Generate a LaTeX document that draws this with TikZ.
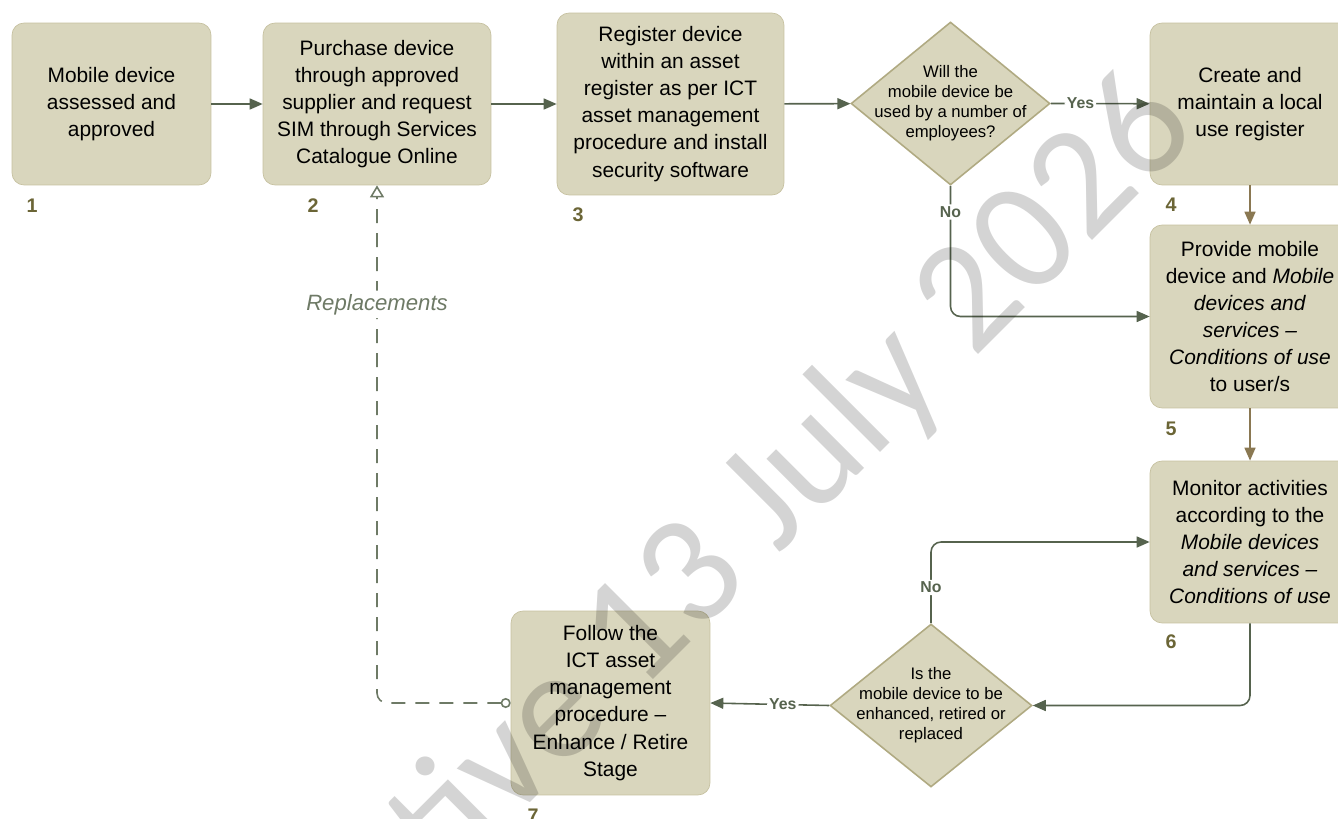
\documentclass[tikz,border=0pt]{standalone}
\usepackage{fontspec}
\setmainfont{Liberation Sans}
\newfontfamily\wmfont{Carlito}
\usetikzlibrary{arrows.meta}
\usetikzlibrary{shapes.geometric}

\definecolor{boxfill}{HTML}{D9D6BD}
\definecolor{boxline}{HTML}{C6C1A0}
\definecolor{diamline}{HTML}{B0AA82}
\definecolor{flowgreen}{HTML}{56634E}
\definecolor{flowbrown}{HTML}{8A7852}
\definecolor{numolive}{HTML}{6B6536}
\definecolor{replgray}{HTML}{6E7A66}

\tikzset{
  stepbox/.style={draw=boxline,fill=boxfill,rounded corners=0.24cm,align=center,
    inner sep=0pt,font=\fontsize{11.9}{15.4}\selectfont},
  decision/.style={diamond,draw=diamline,fill=boxfill,line width=0.9pt,inner sep=0pt},
  decisiontext/.style={align=center,inner sep=0pt,font=\fontsize{9.5}{11.4}\selectfont},
  flow/.style={draw=flowgreen,line width=0.9pt,rounded corners=0.2cm,
    -{Triangle[length=0.26cm,width=0.22cm]}},
  brownflow/.style={flow,draw=flowbrown},
  yesno/.style={fill=white,inner sep=1.2pt,text=flowgreen,font=\bfseries\fontsize{9}{10}\selectfont},
  stepnum/.style={text=numolive,font=\bfseries\fontsize{11.2}{12}\selectfont},
  replace/.style={draw=replgray,line width=0.9pt,dash pattern=on 0.28cm off 0.2cm,rounded corners=0.2cm,
    {Circle[open,length=0.2cm]}-{Triangle[open,length=0.24cm,width=0.28cm]}},
  wmark/.style={text=black,text opacity=0.17,font=\wmfont\fontsize{90}{90}\selectfont}
}

\begin{document}
\begin{tikzpicture}[x=0.02cm,y=-0.02cm]
\useasboundingbox (0,0) rectangle (1338,818);
\clip (0,0) rectangle (1338,818);
% process steps
\node[stepbox,minimum width=3.98cm,minimum height=3.24cm] (box1) at (111.5,104) {Mobile device\\ assessed and\\ approved};
\node[stepbox,minimum width=4.56cm,minimum height=3.24cm] (box2) at (377,104) {Purchase device\\ through approved\\ supplier and request\\ SIM through Services\\ Catalogue Online};
\node[stepbox,minimum width=4.54cm,minimum height=3.64cm] (box3) at (670.5,104) {Register device\\ within an asset\\ register as per ICT\\ asset management\\ procedure and install\\ security software};
\node[decision,minimum width=3.98cm,minimum height=3.26cm] (d1) at (950.5,103.5) {};
\node[decisiontext] (d1text) at (d1) {Will the\\ mobile device be\\ used by a number of\\ employees?};
\node[stepbox,minimum width=4cm,minimum height=3.24cm] (box4) at (1250,104) {Create and\\ maintain a local\\ use register};
\node[stepbox,minimum width=4cm,minimum height=3.66cm] (box5) at (1250,316.5) {Provide mobile\\ device and \textit{Mobile}\\ \textit{devices and}\\ \textit{services –}\\ \textit{Conditions of use}\\ to user/s};
\node[stepbox,minimum width=4cm,minimum height=3.24cm] (box6) at (1250,542) {Monitor activities\\ according to the\\ \textit{Mobile devices}\\ \textit{and services –}\\ \textit{Conditions of use}};
\node[decision,minimum width=4.04cm,minimum height=3.26cm] (d2) at (931,705.5) {};
\node[decisiontext] (d2text) at (d2) {Is the\\ mobile device to be\\ enhanced, retired or\\ replaced};
\node[stepbox,minimum width=3.98cm,minimum height=3.68cm] (box7) at (610.5,703) {Follow the\\ ICT asset\\ management\\ procedure –\\ Enhance / Retire\\ Stage};
% step numbers
\foreach \name/\px/\py/\num in {n1/32/206/1,n2/313/206/2,n3/578/215/3,n4/1171/205/4,n5/1171/429/5,n6/1171/642/6,n7/533/816/7}
{
    \node[stepnum] (\name) at (\px,\py) {\num};
}
% connectors
\draw[flow] (box1) -- (box2);
\draw[flow] (box2) -- (box3);
\draw[flow] (box3) -- (d1);
\draw[flow] (d1.east) -- node[yesno,pos=0.3] {Yes} (box4);
\draw[flow] (d1.south) |- node[yesno,pos=0.1] {No} (box5.west);
\draw[brownflow] (box4) -- (box5);
\draw[brownflow] (box5) -- (box6);
\draw[flow] (box6.south) |- (d2.east);
\draw[flow] (d2.north) |- node[yesno,pos=0.22] {No} (box6.west);
\draw[flow] (d2.west) -- node[yesno,pos=0.39] {Yes} (box7.east);
\draw[replace] (box7.west) -| node[pos=0.885,fill=white,inner sep=2pt,text=replgray,font=\itshape\fontsize{12.6}{14}\selectfont] (repl) {Replacements} (box2.south);
% watermark
\node[wmark,anchor=base east,rotate=45] (wm) at (1205,128) {tive 13 July 2026};
\end{tikzpicture}
\end{document}
